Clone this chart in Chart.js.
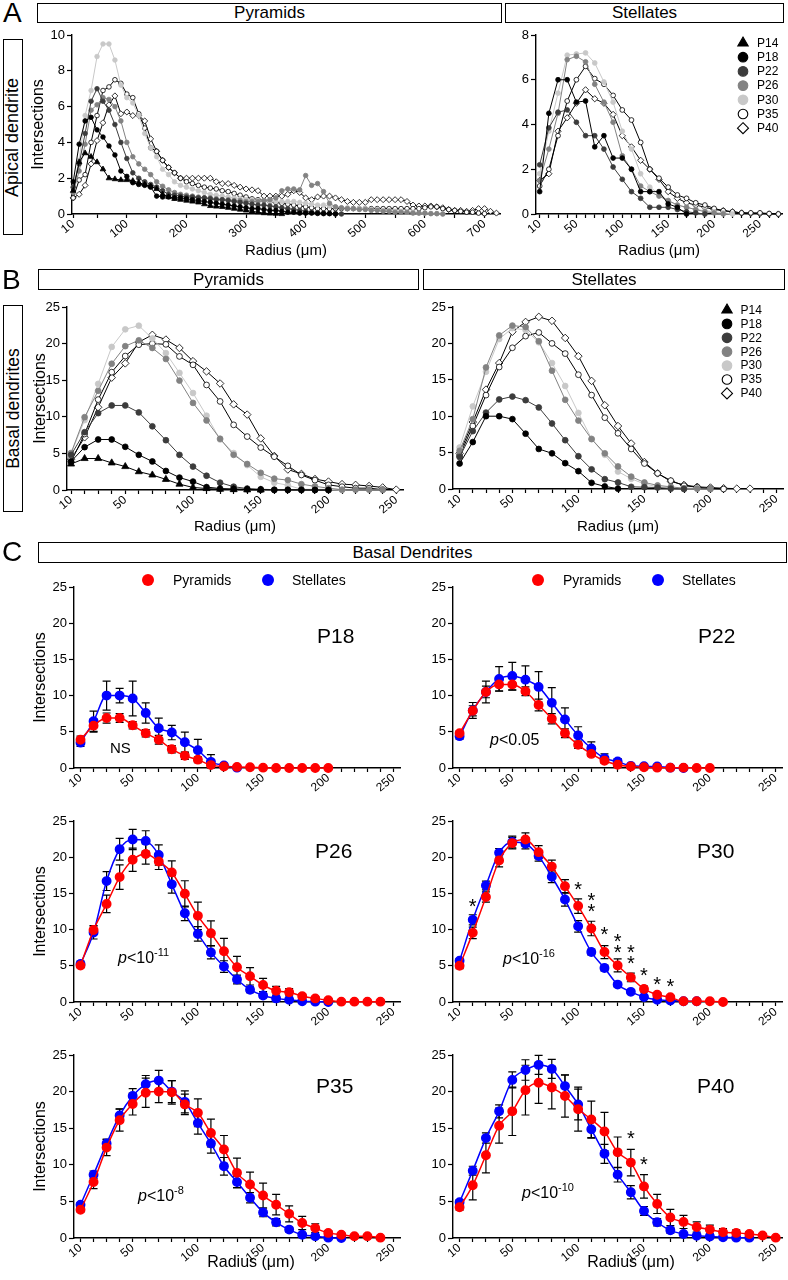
<!DOCTYPE html>
<html>
<head>
<meta charset="utf-8">
<title>Sholl analysis: pyramids vs stellates</title>
<script src="https://cdn.jsdelivr.net/npm/chart.js@4.4.1/dist/chart.umd.min.js"></script>
<style>
  html, body { margin: 0; padding: 0; background: #fff; }
  body { position: relative; width: 788px; height: 1280px; overflow: hidden;
         font-family: "Liberation Sans", Arial, Helvetica, sans-serif; color: #000; }
  canvas { position: absolute; }
  .txt { position: absolute; line-height: 1; white-space: nowrap; }
  .letter { font-size: 28px; }
  .box { position: absolute; box-sizing: border-box; border: 1.5px solid #000; background: #fff;
         display: flex; align-items: center; justify-content: center; font-size: 17px; }
  .vbox span { transform: rotate(-90deg); white-space: nowrap; font-size: 18px; }
  .age { font-size: 21px; }
  .pval { font-size: 16px; }
  .sup { font-size: 11px; position: relative; top: -7px; }
  .dot { position: absolute; width: 12px; height: 12px; border-radius: 50%; }
  .key { font-size: 14px; }
  .xtitle { font-size: 16px; width: 120px; text-align: center; }
</style>
</head>
<body>

<!-- ===================== PANEL A ===================== -->
<div class="txt letter" style="left:3px;top:-1px">A</div>
<div class="box" style="left:37px;top:3px;width:465px;height:20px">Pyramids</div>
<div class="box" style="left:505px;top:3px;width:279px;height:20px">Stellates</div>
<div class="box vbox" style="left:3px;top:39px;width:20px;height:196px"><span>Apical dendrite</span></div>
<canvas id="apicalPyr"></canvas>
<canvas id="apicalStel"></canvas>

<!-- ===================== PANEL B ===================== -->
<div class="txt letter" style="left:2px;top:266px">B</div>
<div class="box" style="left:38px;top:269px;width:381px;height:21px">Pyramids</div>
<div class="box" style="left:423px;top:269px;width:362px;height:21px">Stellates</div>
<div class="box vbox" style="left:3px;top:305px;width:20px;height:207px"><span style="font-size:17.5px">Basal dendrites</span></div>
<canvas id="basalPyr"></canvas>
<canvas id="basalStel"></canvas>

<!-- ===================== PANEL C ===================== -->
<div class="txt letter" style="left:2px;top:538px">C</div>
<div class="box" style="left:38px;top:542px;width:749px;height:21px">Basal Dendrites</div>
<canvas id="cP18"></canvas>
<canvas id="cP22"></canvas>
<canvas id="cP26"></canvas>
<canvas id="cP30"></canvas>
<canvas id="cP35"></canvas>
<canvas id="cP40"></canvas>

<div class="dot" style="left:142px;top:574px;background:#ff0000"></div>
<div class="txt key" style="left:173px;top:573px">Pyramids</div>
<div class="dot" style="left:262px;top:574px;background:#0000ff"></div>
<div class="txt key" style="left:292px;top:573px">Stellates</div>
<div class="dot" style="left:532px;top:574px;background:#ff0000"></div>
<div class="txt key" style="left:563px;top:573px">Pyramids</div>
<div class="dot" style="left:652px;top:574px;background:#0000ff"></div>
<div class="txt key" style="left:682px;top:573px">Stellates</div>

<div class="txt age" style="left:317px;top:625px">P18</div>
<div class="txt age" style="left:698px;top:625px">P22</div>
<div class="txt age" style="left:315px;top:840px">P26</div>
<div class="txt age" style="left:697px;top:840px">P30</div>
<div class="txt age" style="left:316px;top:1075px">P35</div>
<div class="txt age" style="left:697px;top:1075px">P40</div>

<div class="txt pval" style="left:110px;top:740px;font-size:15px">NS</div>
<div class="txt pval" style="left:490px;top:732px"><i>p</i>&lt;0.05</div>
<div class="txt pval" style="left:118px;top:950px"><i>p</i>&lt;10<span class="sup">-11</span></div>
<div class="txt pval" style="left:503px;top:951px"><i>p</i>&lt;10<span class="sup">-16</span></div>
<div class="txt pval" style="left:138px;top:1188px"><i>p</i>&lt;10<span class="sup">-8</span></div>
<div class="txt pval" style="left:522px;top:1185px"><i>p</i>&lt;10<span class="sup">-10</span></div>

<div class="txt xtitle" style="left:191px;top:1254px">Radius (μm)</div>
<div class="txt xtitle" style="left:571px;top:1254px">Radius (μm)</div>

<script>
/* =========================================================
   DATA  (radius in µm, one value every 10 µm from 10)
========================================================= */

const radius = [10, 20, 30, 40, 50, 60, 70, 80, 90, 100, 110, 120, 130, 140, 150, 160, 170, 180, 190, 200,
  210, 220, 230, 240, 250, 260, 270, 280, 290, 300, 310, 320, 330, 340, 350, 360, 370, 380, 390, 400,
  410, 420, 430, 440, 450, 460, 470, 480, 490, 500, 510, 520, 530, 540, 550, 560, 570, 580, 590, 600,
  610, 620, 630, 640, 650, 660, 670, 680, 690, 700, 710, 720];

/* -------- tick marks / labels -------- */
const apicalPyrTicks = [10, 50, 100, 150, 200, 250, 300, 350, 400, 450, 500, 550, 600, 650, 700];
const apicalPyrLabels = [10, 100, 200, 300, 400, 500, 600, 700];
const apicalStelTicks = [10, 20, 30, 40, 50, 60, 70, 80, 90, 100, 110, 120, 130, 140, 150, 160, 170, 180,
  190, 200, 210, 220, 230, 240, 250, 260, 270];
const basalTicks = [10, 20, 30, 40, 50, 60, 70, 80, 90, 100, 110, 120, 130, 140, 150, 160, 170, 180,
  190, 200, 210, 220, 230, 240, 250];
const basalLabels = [10, 50, 100, 150, 200, 250];

/* -------- A: apical dendrite, pyramids -------- */
const apPyrP14 = [1.3, 2.9, 3.4, 3.2, 2.9, 2.5, 2.0, 1.95, 1.9, 1.9, 1.85, 1.75, 1.65, 1.55, 1.4, 1.1, 0.95, 0.85,
  0.8, 0.75, 0.7, 0.65, 0.55, 0.45, 0.42, 0.4, 0.35, 0.3, 0.25, 0.2, 0.15, 0.1, 0.05, 0.03, 0.02, 0];
const apPyrP18 = [1.8, 3.9, 5.2, 5.4, 4.7, 4.3, 3.8, 3.3, 2.4, 2.1, 1.75, 1.65, 1.6, 1.5, 1.0, 0.95, 0.95, 0.9,
  0.9, 0.85, 0.8, 0.75, 0.7, 0.65, 0.6, 0.55, 0.5, 0.45, 0.4, 0.35, 0.3, 0.3, 0.25, 0.2, 0.2, 0.15, 0.1, 0.1,
  0.05, 0.05, 0.05, 0.03, 0.02, 0.02, 0];
const apPyrP22 = [1.5, 2.8, 4.5, 6.3, 7.0, 6.3, 5.8, 5.0, 4.0, 3.1, 2.3, 2.0, 1.8, 1.65, 1.5, 1.3, 1.1, 1.05,
  1.0, 0.95, 0.95, 0.9, 0.9, 0.85, 0.8, 0.8, 0.75, 0.7, 0.65, 0.6, 0.55, 0.5, 0.5, 0.45, 0.4, 0.35, 0.3, 0.25,
  0.2, 0.15, 0.1, 0.08, 0.05, 0.03, 0.02, 0];
const apPyrP26 = [1.2, 2.4, 3.9, 5.8, 6.1, 6.5, 6.4, 6.0, 5.2, 4.0, 3.2, 2.8, 2.5, 2.2, 1.8, 1.55, 1.35, 1.2,
  1.1, 1.05, 1.0, 0.95, 0.9, 0.9, 0.85, 0.8, 0.8, 0.75, 0.75, 0.7, 0.7, 0.7, 0.75, 0.8, 0.9, 1.3, 1.4, 1.4,
  1.35, 2.15, 1.6, 1.7, 1.25, 0.6, 0.4, 0.35, 0.3, 0.3, 0.25, 0.25, 0.2, 0.2, 0.15, 0.15, 0.1, 0.1, 0.1,
  0.05, 0.05, 0.05, 0.02, 0.02, 0];
const apPyrP30 = [1.5, 3.0, 5.5, 6.9, 8.8, 9.5, 9.5, 8.6, 7.2, 6.5, 6.2, 5.5, 4.5, 3.7, 3.2, 2.5, 2.2, 1.8,
  1.6, 1.5, 1.4, 1.3, 1.2, 1.1, 1.05, 1.0, 0.95, 0.9, 0.85, 0.8, 0.8, 0.75, 0.75, 0.7, 0.7, 0.7, 0.7, 0.7,
  0.65, 0.6, 0.55, 0.5, 0.5, 0.45, 0.4, 0.35, 0.35, 0.3, 0.3, 0.3, 0.25, 0.25, 0.2, 0.2, 0.15, 0.15, 0.1,
  0.1, 0.05, 0.05, 0.03, 0.02, 0];
const apPyrP35 = [0.9, 1.9, 2.2, 4.0, 5.5, 6.9, 7.1, 7.5, 7.3, 6.7, 6.5, 5.6, 4.8, 3.7, 3.5, 3.0, 2.6, 2.3,
  2.0, 1.8, 1.7, 1.6, 1.5, 1.45, 1.4, 1.3, 1.25, 1.15, 1.05, 0.95, 0.85, 0.8, 0.75, 0.7, 0.65, 0.6, 0.55,
  0.5, 0.45, 0.4, 0.35, 0.3, 0.3, 0.3, 0.3, 0.3, 0.3, 0.3, 0.3, 0.3, 0.3, 0.3, 0.3, 0.3, 0.3, 0.3, 0.3,
  0.3, 0.3, 0.35, 0.4, 0.4, 0.3, 0.25, 0.2, 0.15, 0.1, 0.1, 0.05, 0.02];
const apPyrP40 = [0.9, 1.1, 1.6, 2.8, 4.1, 5.1, 6.1, 6.6, 5.6, 5.7, 5.5, 5.5, 5.2, 4.2, 3.5, 3.0, 2.6, 2.3,
  2.0, 2.0, 2.0, 2.0, 2.0, 2.0, 1.8, 1.7, 1.7, 1.6, 1.5, 1.4, 1.35, 1.3, 1.0, 1.0, 1.0, 1.0, 1.1, 1.3, 1.2,
  0.9, 0.8, 0.95, 1.0, 1.0, 0.9, 0.8, 0.7, 0.65, 0.65, 0.65, 0.8, 0.8, 0.8, 0.8, 0.8, 0.8, 0.7, 0.5, 0.45,
  0.45, 0.45, 0.4, 0.35, 0.25, 0.2, 0.2, 0.15, 0.2, 0.3, 0.3, 0.15, 0.05];

/* -------- A: apical dendrite, stellates -------- */
const apStelP18 = [1.0, 4.5, 6.0, 6.0, 5.0, 5.05, 3.0, 3.5, 2.5, 2.5, 2.0, 1.0, 1.0, 1.0, 0.45, 0.3, 0];
const apStelP22 = [2.2, 3.85, 4.55, 4.65, 4.1, 3.5, 3.5, 2.9, 2.1, 1.55, 1.0, 0.7, 0.3, 0.3, 0.3, 0.2, 0.1, 0.05, 0];
const apStelP26 = [1.5, 2.9, 4.5, 6.9, 7.05, 6.8, 5.8, 5.0, 4.1, 2.6, 2.0, 1.25, 1.0, 0.8, 0.6, 0.4, 0.3,
  0.2, 0.1, 0.05, 0];
const apStelP30 = [1.8, 3.7, 5.4, 7.1, 7.15, 7.2, 6.75, 5.9, 5.0, 3.7, 2.9, 1.8, 1.2, 0.9, 0.6, 0.4, 0.3,
  0.2, 0.15, 0.1, 0.05, 0];
const apStelP35 = [1.25, 2.0, 3.5, 5.05, 6.0, 6.6, 6.05, 5.8, 5.3, 4.65, 4.2, 3.2, 2.0, 1.6, 1.2, 0.85, 0.7,
  0.5, 0.4, 0.25, 0.15, 0.1, 0.05, 0.05, 0.05, 0.02, 0];
const apStelP40 = [1.5, 1.8, 3.7, 4.3, 4.95, 5.55, 5.15, 4.95, 4.45, 3.5, 3.0, 2.4, 2.0, 1.55, 1.0, 0.7, 0.5,
  0.4, 0.3, 0.2, 0.15, 0.1, 0.05, 0.03, 0.02, 0, 0];

/* -------- B: basal P14 pyramids (no C panel for P14) -------- */
const baPyrP14 = [3.55, 4.3, 4.3, 3.7, 3.2, 2.5, 2.05, 1.45, 0.8, 0.35, 0.2, 0.1, 0.05, 0.02, 0];

/* -------- C (and B): basal dendrites, mean and error -------- */
const p18Pyr = [3.9, 5.85, 6.9, 6.9, 5.9, 4.8, 3.9, 2.6, 1.7, 1.15, 0.4, 0.2, 0.15, 0.1, 0.05, 0, 0, 0, 0, 0];
const p18PyrErr = [0.5, 0.9, 0.7, 0.6, 0.5, 0.5, 0.6, 0.5, 0.5, 0.4, 0.2, 0.1, 0.1, 0.1, 0, 0, 0, 0, 0, 0];
const p18Stel = [3.5, 6.45, 10.0, 10.0, 9.6, 7.6, 5.5, 4.9, 3.55, 2.45, 0.85, 0.35, 0.05];
const p18StelErr = [0.5, 1.4, 2.0, 1.0, 2.4, 1.4, 1.4, 1.0, 1.4, 1.5, 1.0, 0.3, 0];

const p22Pyr = [4.8, 7.9, 10.5, 11.55, 11.55, 10.6, 8.7, 6.8, 4.8, 3.2, 1.95, 1.0, 0.45, 0.2, 0.1, 0.05,
  0.05, 0.05, 0, 0];
const p22PyrErr = [0.3, 0.7, 0.8, 0.9, 0.8, 0.6, 0.8, 0.7, 0.6, 0.5, 0.3, 0.3, 0.2, 0.1, 0.1, 0, 0, 0, 0, 0];
const p22Stel = [4.4, 7.95, 10.5, 12.3, 12.7, 12.2, 11.2, 9.0, 6.7, 4.5, 2.7, 1.35, 0.9, 0.3, 0.25, 0.2, 0.05, 0];
const p22StelErr = [0.4, 1.1, 1.5, 1.7, 1.9, 1.9, 2.1, 2.1, 1.6, 1.2, 0.9, 0.6, 0.4, 0.2, 0.1, 0.1, 0, 0];

const p26Pyr = [5.05, 9.95, 13.55, 17.25, 19.65, 20.45, 19.4, 17.9, 14.95, 11.9, 9.5, 7.0, 4.8, 3.55, 2.35,
  1.55, 1.35, 0.8, 0.5, 0.25, 0.05, 0.05, 0.05, 0.05];
const p26PyrErr = [0.3, 0.6, 1.2, 1.7, 1.6, 1.4, 1.1, 1.6, 1.8, 1.9, 1.7, 1.8, 1.5, 1.2, 0.9, 0.6, 0.5, 0.3,
  0.2, 0.1, 0, 0, 0, 0];
const p26Stel = [5.25, 9.6, 16.7, 21.1, 22.45, 22.25, 20.3, 16.25, 12.25, 9.4, 6.85, 4.9, 3.1, 1.7, 0.9,
  0.5, 0.3, 0.1, 0.05, 0];
const p26StelErr = [0.4, 0.9, 1.3, 1.5, 1.4, 1.4, 1.4, 1.2, 1.0, 1.0, 0.9, 0.8, 0.6, 0.4, 0.3, 0.2, 0.1,
  0.1, 0, 0];

const p30Pyr = [5.0, 9.55, 14.5, 19.55, 21.95, 22.45, 20.7, 18.7, 16.0, 13.25, 10.15, 6.9, 5.05, 3.4, 1.8,
  1.0, 0.65, 0.1, 0.1, 0.1, 0];
const p30PyrErr = [0.4, 0.8, 0.7, 0.9, 0.8, 0.9, 0.9, 0.9, 0.9, 1.0, 1.0, 0.9, 0.9, 0.6, 0.4, 0.3, 0.2, 0,
  0, 0, 0];
const p30Stel = [5.7, 11.35, 16.1, 20.6, 22.1, 21.85, 20.15, 17.3, 14.15, 10.45, 6.9, 4.7, 2.4, 1.4, 0.7,
  0.3, 0.2, 0.1, 0.1];
const p30StelErr = [0.3, 0.7, 0.6, 0.6, 0.8, 0.7, 0.7, 0.8, 0.9, 0.8, 0.4, 0.4, 0.3, 0.2, 0.1, 0.1, 0, 0, 0];

const p35Pyr = [3.85, 7.65, 12.35, 16.1, 18.3, 19.85, 20.0, 19.9, 18.25, 17.1, 14.35, 12.1, 8.9, 7.3, 5.8,
  4.55, 3.3, 2.05, 1.35, 0.7, 0.45, 0.25, 0.25, 0.05];
const p35PyrErr = [0.3, 0.9, 1.1, 1.5, 1.5, 2.0, 1.5, 1.6, 1.4, 1.9, 1.9, 1.9, 2.0, 1.7, 1.7, 1.4, 1.1, 0.9,
  0.6, 0.3, 0.2, 0.1, 0, 0];
const p35Stel = [4.55, 8.65, 12.9, 16.75, 19.4, 21.0, 21.5, 20.0, 18.6, 15.7, 12.9, 9.8, 7.65, 5.5, 3.5,
  2.15, 1.15, 0.45, 0.25, 0.05, 0];
const p35StelErr = [0.3, 0.5, 0.6, 0.9, 1.0, 1.2, 1.4, 1.5, 1.5, 1.5, 1.3, 1.2, 0.8, 0.7, 0.6, 0.5, 0.3,
  0.2, 0.1, 0, 0];

const p40Pyr = [4.2, 7.2, 11.3, 15.35, 17.3, 20.2, 21.2, 20.55, 19.4, 17.6, 16.2, 14.55, 11.7, 10.3, 7.05,
  4.65, 2.8, 2.2, 1.5, 1.15, 0.8, 0.7, 0.55, 0.35, 0.05];
const p40PyrErr = [0.4, 2.0, 2.4, 2.4, 3.3, 3.4, 2.8, 2.9, 2.9, 3.0, 2.5, 2.6, 2.1, 1.8, 1.6, 1.3, 1.1, 0.9,
  0.7, 0.6, 0.5, 0.4, 0.3, 0.2, 0];
const p40Stel = [4.9, 9.2, 13.65, 17.3, 21.6, 22.95, 23.65, 23.1, 20.75, 18.25, 14.85, 11.5, 8.65, 6.25,
  3.7, 2.15, 1.05, 0.55, 0.3, 0.2, 0.1, 0.05, 0.05];
const p40StelErr = [0.3, 0.6, 0.7, 0.9, 1.1, 1.4, 1.3, 1.3, 1.5, 2.1, 1.2, 1.3, 1.0, 0.9, 0.6, 0.5, 0.4,
  0.2, 0.1, 0.1, 0, 0, 0];

/* -------- significance stars: [radius, intersections] -------- */
const p30Stars = [[20, 13.75], [100, 16.1], [110, 14.6], [110, 13.1], [120, 9.9], [130, 9.0], [130, 7.5],
  [140, 7.4], [140, 6.0], [150, 4.3], [160, 3.1], [170, 2.8]];
const p40Stars = [[140, 14.2], [150, 10.6]];

const ages = ['P14', 'P18', 'P22', 'P26', 'P30', 'P35', 'P40'];

/* =========================================================
   STYLES
========================================================= */

const RED = '#ff0000';
const BLUE = '#0000ff';
const FONT = '"Liberation Sans", Arial, Helvetica, sans-serif';

const AGE_STYLE = {
  P14: { line: '#000', fill: '#000', border: '#000', shape: 'triangle' },
  P18: { line: '#000', fill: '#000', border: '#000', shape: 'circle' },
  P22: { line: '#3c3c3c', fill: '#3c3c3c', border: '#3c3c3c', shape: 'circle' },
  P26: { line: '#828282', fill: '#828282', border: '#828282', shape: 'circle' },
  P30: { line: '#c8c8c8', fill: '#c8c8c8', border: '#c8c8c8', shape: 'circle' },
  P35: { line: '#000', fill: '#fff', border: '#000', shape: 'circle' },
  P40: { line: '#000', fill: '#fff', border: '#000', shape: 'rectRot' }
};

Chart.defaults.font.family = FONT;
Chart.defaults.color = '#000';
Chart.defaults.animation = false;

/* =========================================================
   PLUGINS
========================================================= */

function drawMarker(ctx, shape, x, y, r) {
  ctx.beginPath();
  if (shape === 'triangle') {
    ctx.moveTo(x, y - r);
    ctx.lineTo(x + r * 0.866, y + r * 0.5);
    ctx.lineTo(x - r * 0.866, y + r * 0.5);
    ctx.closePath();
  } else if (shape === 'rectRot') {
    ctx.moveTo(x, y - r);
    ctx.lineTo(x + r, y);
    ctx.lineTo(x, y + r);
    ctx.lineTo(x - r, y);
    ctx.closePath();
  } else {
    ctx.arc(x, y, r, 0, Math.PI * 2);
  }
  ctx.fill();
  ctx.stroke();
}

/* -------- error bars (mean ± err, with caps) -------- */
const errorBars = {
  id: 'errorBars',
  beforeDatasetsDraw(chart) {
    const { ctx, scales: { x, y } } = chart;
    ctx.save();
    ctx.strokeStyle = '#000';
    ctx.lineWidth = 1.2;
    chart.data.datasets.forEach(ds => {
      if (!ds.errors) return;
      ds.data.forEach((p, i) => {
        const e = ds.errors[i];
        if (!e) return;
        const px = x.getPixelForValue(p.x);
        const top = y.getPixelForValue(p.y + e);
        const bot = y.getPixelForValue(Math.max(p.y - e, 0));
        ctx.beginPath();
        ctx.moveTo(px, top); ctx.lineTo(px, bot);
        ctx.moveTo(px - 4, top); ctx.lineTo(px + 4, top);
        ctx.moveTo(px - 4, bot); ctx.lineTo(px + 4, bot);
        ctx.stroke();
      });
    });
    ctx.restore();
  }
};

/* -------- asterisks -------- */
const stars = {
  id: 'stars',
  afterDatasetsDraw(chart, args, opts) {
    if (!opts || !opts.items) return;
    const { ctx, scales: { x, y } } = chart;
    ctx.save();
    ctx.font = '20px ' + FONT;
    ctx.textAlign = 'center';
    ctx.textBaseline = 'alphabetic';
    ctx.fillStyle = '#000';
    opts.items.forEach(s => {
      ctx.fillText('*', x.getPixelForValue(s[0]), y.getPixelForValue(s[1]) + 11);
    });
    ctx.restore();
  }
};

/* -------- age legend inside the plot -------- */
const ageLegend = {
  id: 'ageLegend',
  afterDraw(chart, args, opts) {
    if (!opts || !opts.items) return;
    const { ctx, chartArea } = chart;
    const x0 = chartArea.right - opts.right;
    const y0 = chartArea.top + opts.top;
    ctx.save();
    ctx.font = '12px ' + FONT;
    ctx.textBaseline = 'middle';
    ctx.lineWidth = 1.1;
    opts.items.forEach((age, i) => {
      const s = AGE_STYLE[age];
      const y = y0 + i * opts.step;
      const r = s.shape === 'triangle' ? 6 : s.shape === 'rectRot' ? 5.5 : 4.8;
      ctx.fillStyle = s.fill;
      ctx.strokeStyle = s.border;
      drawMarker(ctx, s.shape, x0, y, r);
      ctx.fillStyle = '#000';
      ctx.fillText(age, x0 + opts.gap, y + 0.5);
    });
    ctx.restore();
  }
};

Chart.register(errorBars, stars, ageLegend);

/* =========================================================
   DATASET BUILDERS
========================================================= */

function pts(values) {
  return values.map((v, i) => ({ x: radius[i], y: v }));
}

function ageDataset(age, values, size) {
  const s = AGE_STYLE[age];
  const k = s.shape === 'triangle' ? 1.4 : s.shape === 'rectRot' ? 1.3 : 1;
  return {
    label: age,
    data: pts(values),
    borderColor: s.line,
    backgroundColor: s.fill,
    pointBackgroundColor: s.fill,
    pointBorderColor: s.border,
    pointStyle: s.shape,
    pointRadius: size * k,
    pointBorderWidth: 0.8,
    borderWidth: 1,
    tension: 0,
    clip: false
  };
}

function cellDataset(label, color, values, errors) {
  return {
    label,
    data: pts(values),
    errors,
    borderColor: color,
    backgroundColor: color,
    pointBackgroundColor: color,
    pointBorderColor: color,
    pointRadius: 4.2,
    borderWidth: 1.5,
    cubicInterpolationMode: 'monotone',
    clip: false
  };
}

/* =========================================================
   CHART FACTORY
   box  = canvas rect on the page [x, y, w, h]
   area = wanted plot area       [left, top, right, bottom]
========================================================= */

function makeChart(id, c) {
  const [bx, by, bw, bh] = c.box;
  const [al, at, ar, ab] = c.area;
  const cv = document.getElementById(id);
  cv.width = bw;
  cv.height = bh;
  cv.style.left = bx + 'px';
  cv.style.top = by + 'px';

  const yFont = 16;
  const xFont = c.xTitleSize || 16;
  const scaleLeft = c.yTitle ? c.yTitle - yFont * 0.6 : al - 24;
  const scaleBottom = c.xTitle ? c.xTitle + xFont * 0.6 : ab + 30;
  const yWidth = al - scaleLeft;
  const xHeight = scaleBottom - ab;

  const axisGrid = len => ({
    display: true, drawOnChartArea: false, drawTicks: true,
    tickLength: len, tickColor: '#000', tickWidth: 1.2
  });

  return new Chart(cv, {
    type: 'line',
    data: { datasets: c.datasets },
    options: {
      responsive: false,
      animation: false,
      devicePixelRatio: 1,
      events: [],
      layout: {
        padding: { left: scaleLeft - bx, top: at - by, right: bx + bw - ar, bottom: by + bh - scaleBottom }
      },
      plugins: {
        legend: { display: false },
        tooltip: { enabled: false },
        ageLegend: c.legend || {},
        stars: { items: c.stars || null }
      },
      scales: {
        x: {
          type: 'linear',
          min: c.xMin,
          max: c.xMax,
          afterBuildTicks: s => { s.ticks = c.xTicks.map(v => ({ value: v })); },
          afterFit: s => { s.height = xHeight; },
          ticks: {
            autoSkip: false, minRotation: 40, maxRotation: 40, padding: -1,
            font: { size: 12 },
            callback: v => (c.xLabels.includes(v) ? String(v) : '')
          },
          grid: axisGrid(4),
          border: { display: true, color: '#000', width: 1.4 },
          title: { display: !!c.xTitle, text: 'Radius (μm)', font: { size: xFont }, padding: 0 }
        },
        y: {
          min: 0,
          max: c.yMax,
          afterFit: s => { s.width = yWidth; },
          ticks: { stepSize: c.yStep, padding: 2, font: { size: 13 } },
          grid: axisGrid(5),
          border: { display: true, color: '#000', width: 1.4 },
          title: { display: !!c.yTitle, text: 'Intersections', font: { size: yFont }, padding: 0 }
        }
      }
    }
  });
}

/* =========================================================
   PANEL A  - apical dendrite
========================================================= */

makeChart('apicalPyr', {
  box: [20, 25, 490, 240], area: [72, 35, 500, 214],
  xMin: 8, xMax: 726, xTicks: apicalPyrTicks, xLabels: apicalPyrLabels,
  yMax: 10, yStep: 2, yTitle: 39, xTitle: 251, xTitleSize: 15,
  datasets: [
    ageDataset('P14', apPyrP14, 2.3),
    ageDataset('P18', apPyrP18, 2.3),
    ageDataset('P22', apPyrP22, 2.3),
    ageDataset('P26', apPyrP26, 2.3),
    ageDataset('P30', apPyrP30, 2.3),
    ageDataset('P35', apPyrP35, 2.3),
    ageDataset('P40', apPyrP40, 2.3)
  ]
});

makeChart('apicalStel', {
  box: [510, 25, 278, 240], area: [536, 35, 782, 214],
  xMin: 6, xMax: 274, xTicks: apicalStelTicks, xLabels: basalLabels,
  yMax: 8, yStep: 2, xTitle: 251, xTitleSize: 15,
  legend: { items: ages, right: 39, top: 8, step: 14.2, gap: 14 },
  datasets: [
    ageDataset('P18', apStelP18, 2.4),
    ageDataset('P22', apStelP22, 2.4),
    ageDataset('P26', apStelP26, 2.4),
    ageDataset('P30', apStelP30, 2.4),
    ageDataset('P35', apStelP35, 2.4),
    ageDataset('P40', apStelP40, 2.4)
  ]
});

/* =========================================================
   PANEL B  - basal dendrites, all ages
========================================================= */

makeChart('basalPyr', {
  box: [20, 295, 400, 245], area: [67, 307, 403, 490],
  xMin: 7, xMax: 255, xTicks: basalTicks, xLabels: basalLabels,
  yMax: 25, yStep: 5, yTitle: 41, xTitle: 527, xTitleSize: 15,
  datasets: [
    ageDataset('P14', baPyrP14, 2.9),
    ageDataset('P18', p18Pyr, 2.9),
    ageDataset('P22', p22Pyr, 2.9),
    ageDataset('P26', p26Pyr, 2.9),
    ageDataset('P30', p30Pyr, 2.9),
    ageDataset('P35', p35Pyr, 2.9),
    ageDataset('P40', p40Pyr, 2.9)
  ]
});

makeChart('basalStel', {
  box: [420, 295, 368, 245], area: [453, 307, 783, 489],
  xMin: 5, xMax: 255, xTicks: basalTicks, xLabels: basalLabels,
  yMax: 25, yStep: 5, xTitle: 527, xTitleSize: 15,
  legend: { items: ages, right: 56, top: 3, step: 13.9, gap: 13.5 },
  datasets: [
    ageDataset('P18', p18Stel, 2.9),
    ageDataset('P22', p22Stel, 2.9),
    ageDataset('P26', p26Stel, 2.9),
    ageDataset('P30', p30Stel, 2.9),
    ageDataset('P35', p35Stel, 2.9),
    ageDataset('P40', p40Stel, 2.9)
  ]
});

/* =========================================================
   PANEL C  - pyramids vs stellates per age
   (bottom-row "Radius" titles are page text, set between the tick labels)
========================================================= */

const LEFT = { x: 20, w: 400, l: 74, r: 400, yTitle: 41 };
const RIGHT = { x: 420, w: 368, l: 453, r: 785, yTitle: null };
const ROWS = [
  { y: 570, h: 235, t: 587, b: 768 },
  { y: 805, h: 235, t: 821, b: 1002 },
  { y: 1040, h: 240, t: 1055, b: 1238 }
];

function comparePanel(id, col, row, pyr, pyrErr, stel, stelErr, starItems) {
  makeChart(id, {
    box: [col.x, row.y, col.w, row.h], area: [col.l, row.t, col.r, row.b],
    xMin: 5, xMax: 255, xTicks: basalTicks, xLabels: basalLabels,
    yMax: 25, yStep: 5, yTitle: col.yTitle,
    stars: starItems,
    datasets: [
      cellDataset('Pyramids', RED, pyr, pyrErr),
      cellDataset('Stellates', BLUE, stel, stelErr)
    ]
  });
}

comparePanel('cP18', LEFT, ROWS[0], p18Pyr, p18PyrErr, p18Stel, p18StelErr);
comparePanel('cP22', RIGHT, ROWS[0], p22Pyr, p22PyrErr, p22Stel, p22StelErr);
comparePanel('cP26', LEFT, ROWS[1], p26Pyr, p26PyrErr, p26Stel, p26StelErr);
comparePanel('cP30', RIGHT, ROWS[1], p30Pyr, p30PyrErr, p30Stel, p30StelErr, p30Stars);
comparePanel('cP35', LEFT, ROWS[2], p35Pyr, p35PyrErr, p35Stel, p35StelErr);
comparePanel('cP40', RIGHT, ROWS[2], p40Pyr, p40PyrErr, p40Stel, p40StelErr, p40Stars);
</script>
</body>
</html>
